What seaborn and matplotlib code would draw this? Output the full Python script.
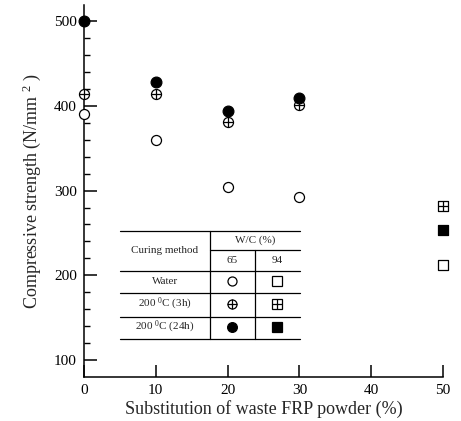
import numpy as np
import pandas as pd
import matplotlib
matplotlib.use('Agg')
import matplotlib.pyplot as plt
import seaborn as sns

# W/C 65 % series
substitution = [0, 10, 20, 30]
water_65 = [391, 360, 304, 292]
heat3h_65 = [414, 414, 381, 401]
heat24h_65 = [500, 428, 394, 409]

# W/C 94 % series (only at 50 %)
substitution_94 = [50]
water_94 = [212]
heat3h_94 = [282]
heat24h_94 = [254]

curing_labels = ['Water', '200 $^{0}$C (3h)', '200 $^{0}$C (24h)']
wc_labels = ['65', '94']

rows = []
for s, a, b, c in zip(substitution, water_65, heat3h_65, heat24h_65):
    rows += [(s, a, 'water', '65'), (s, b, '3h', '65'), (s, c, '24h', '65')]
for s, a, b, c in zip(substitution_94, water_94, heat3h_94, heat24h_94):
    rows += [(s, a, 'water', '94'), (s, b, '3h', '94'), (s, c, '24h', '94')]
df = pd.DataFrame(rows, columns=['sub', 'strength', 'curing', 'wc'])

sns.set_style('ticks')
plt.rcParams['font.family'] = ['Liberation Serif', 'DejaVu Serif']
plt.rcParams['mathtext.fontset'] = 'custom'
plt.rcParams['mathtext.rm'] = 'Liberation Serif'
plt.rcParams['mathtext.it'] = 'Liberation Serif:italic'

fig = plt.figure(figsize=(4.61, 4.21), dpi=100)
ax = fig.add_axes([0.182, 0.1045, 0.779, 0.8835])

msize = 52
marker_of = {'65': 'o', '94': 's'}
for wc in wc_labels:
    m = marker_of[wc]
    d = df[(df['wc'] == wc) & (df['curing'] == 'water')]
    sns.scatterplot(data=d, x='sub', y='strength', marker=m, s=msize, facecolor='white',
                    edgecolor='black', linewidth=0.9, ax=ax, clip_on=False, zorder=3)
    d = df[(df['wc'] == wc) & (df['curing'] == '3h')]
    sns.scatterplot(data=d, x='sub', y='strength', marker=m, s=msize, facecolor='white',
                    edgecolor='black', linewidth=0.9, ax=ax, clip_on=False, zorder=3)
    sns.scatterplot(data=d, x='sub', y='strength', marker='+', s=msize, color='black',
                    linewidth=0.9, ax=ax, clip_on=False, zorder=4)
    d = df[(df['wc'] == wc) & (df['curing'] == '24h')]
    sns.scatterplot(data=d, x='sub', y='strength', marker=m, s=msize * 1.15, color='black',
                    edgecolor='black', linewidth=0.9, ax=ax, clip_on=False, zorder=5)

ax.set_xlim(0, 50)
ax.set_ylim(80, 519)
ax.set_xticks(np.arange(0, 51, 10))
ax.set_yticks(np.arange(100, 501, 100))
ax.set_yticks(np.arange(100, 501, 20), minor=True)
ax.tick_params(axis='both', which='both', direction='in', color='black')
ax.tick_params(axis='both', which='major', length=9, width=1.1,
               labelsize=11, labelcolor='black', pad=5)
ax.tick_params(axis='y', which='minor', length=4.5, width=1.0)
for sp in ['top', 'right']:
    ax.spines[sp].set_visible(False)
for sp in ['left', 'bottom']:
    ax.spines[sp].set_linewidth(1.1)
    ax.spines[sp].set_color('black')

ax.set_xlabel('Substitution of waste FRP powder (%)', fontsize=13, labelpad=2)
ax.set_ylabel('Compressive strength (N/mm $^{2}$ )', fontsize=13, labelpad=8)

# legend table, in axes fractions
tr = ax.transAxes
left, right = 0.100, 0.602
col1, col2 = 0.351, 0.476
h_full = [0.392, 0.285, 0.226, 0.161, 0.102]
for y in h_full:
    ax.plot([left, right], [y, y], transform=tr, color='black', lw=0.9, clip_on=False)
ax.plot([col1, right], [0.341, 0.341], transform=tr, color='black', lw=0.9)
ax.plot([col1, col1], [0.392, 0.102], transform=tr, color='black', lw=0.9)
ax.plot([col2, col2], [0.341, 0.102], transform=tr, color='black', lw=0.9)

fs = 8
ax.text((left + col1) / 2, 0.341, 'Curing method', transform=tr, ha='center', va='center', fontsize=fs)
ax.text((col1 + right) / 2, 0.368, 'W/C (%)', transform=tr, ha='center', va='center', fontsize=fs)
mx = [(col1 + col2) / 2, (col2 + right) / 2]
for x, lab in zip(mx, wc_labels):
    ax.text(x, 0.312, lab, transform=tr, ha='center', va='center', fontsize=fs)
row_y = [0.258, 0.196, 0.134]
for y, lab in zip(row_y, curing_labels):
    ax.text((left + col1) / 2, y, lab, transform=tr, ha='center', va='center', fontsize=fs)
for x, wc in zip(mx, wc_labels):
    m = marker_of[wc]
    ax.plot([x], [row_y[0]], transform=tr, marker=m, ms=6.5, mfc='white', mec='black', mew=0.9)
    ax.plot([x], [row_y[1]], transform=tr, marker=m, ms=6.5, mfc='white', mec='black', mew=0.9)
    ax.plot([x], [row_y[1]], transform=tr, marker='+', ms=6.5, mec='black', mew=0.9)
    ax.plot([x], [row_y[2]], transform=tr, marker=m, ms=7, mfc='black', mec='black', mew=0.9)

fig.savefig('out.png', dpi=100)
